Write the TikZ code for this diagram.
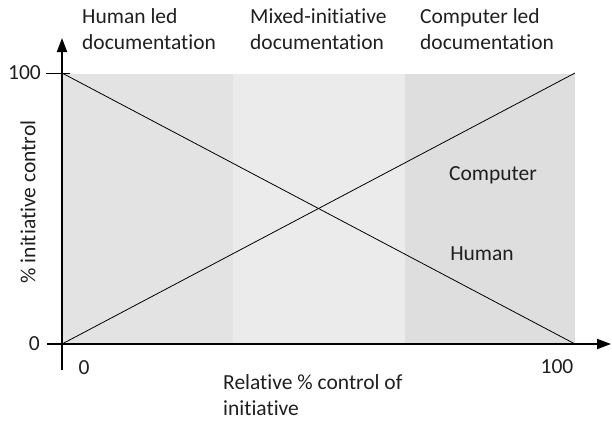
\documentclass[tikz,border=0pt]{standalone}
\usepackage{fontspec}
\setmainfont[Ligatures={NoCommon}]{Carlito}
\usetikzlibrary{arrows.meta}
\begin{document}
\begin{tikzpicture}[x=1pt,y=-1pt,
  lbl/.style={font=\fontsize{21.5}{26.5}\selectfont, text=black!88, inner sep=0pt},
  axisline/.style={line width=2pt},
  plotline/.style={line width=0.8pt}]
\useasboundingbox (0,0) rectangle (612,421);
\definecolor{bandA}{HTML}{E3E3E3}
\definecolor{bandB}{HTML}{EBEBEB}
\definecolor{bandC}{HTML}{DEDEDE}
\fill[bandA] (62,74) rectangle (233,344);
\fill[bandB] (233,74) rectangle (405,344);
\fill[bandC] (405,74) rectangle (575,344);
\coordinate (o) at (62,344);
\coordinate (h0) at (62,73);
\coordinate (h1) at (575,344);
\coordinate (c1) at (575,73);
\coordinate (ybot) at (62,370);
\coordinate (ytop) at (62,38);
\coordinate (xl) at (47,344);
\coordinate (xr) at (611,344);
\coordinate (t1) at (46,73);
\coordinate (t2) at (70,73);
\draw[plotline] (h0) -- (h1);
\draw[plotline] (o) -- (c1);
\draw[line width=0.8pt] (t1) -- (t2);
\draw[axisline,-{Triangle[length=14pt,width=10pt]}] (ybot) -- (ytop);
\draw[axisline,-{Triangle[length=14pt,width=10pt]}] (xl) -- (xr);
\node[lbl,anchor=east] (l100) at (41,73) {100};
\node[lbl,anchor=east] (l0) at (40,344) {0};
\node[lbl] (x0) at (84,368) {0};
\node[lbl] (x100) at (557,367) {100};
\node[lbl,anchor=north west,align=left] (xt) at (223,374) {Relative \% control of\\initiative};
\node[lbl,rotate=90] (yt) at (28,202) {\% initiative control};
\node[lbl,anchor=north west,align=left] (a) at (82,8) {Human led\\documentation};
\node[lbl,anchor=north west,align=left] (b) at (250,8) {Mixed-initiative\\documentation};
\node[lbl,anchor=north west,align=left] (c) at (420,8) {Computer led\\documentation};
\node[lbl] (cp) at (493,175) {Computer};
\node[lbl] (hm) at (482,254) {Human};
\end{tikzpicture}
\end{document}
